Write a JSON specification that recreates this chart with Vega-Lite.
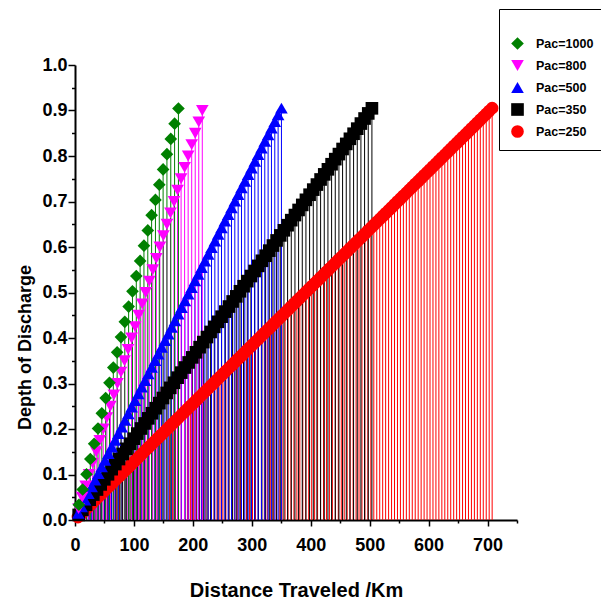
{
"$schema": "https://vega.github.io/schema/vega-lite/v6.json",
"width": 442, "height": 455,
"autosize": "none",
"padding": {"left": 75, "top": 65, "right": 84, "bottom": 83},
"background": "white",
"config": {"view": {"stroke": null}, "font": "Liberation Sans"},
"data": {"values": [
{"pac":"Pac=250","km":5.02,"dod":0.0064},{"pac":"Pac=250","km":10.04,"dod":0.0128},{"pac":"Pac=250","km":15.06,"dod":0.0193},{"pac":"Pac=250","km":20.08,"dod":0.0257},{"pac":"Pac=250","km":25.1,"dod":0.0321},{"pac":"Pac=250","km":30.12,"dod":0.0385},{"pac":"Pac=250","km":35.14,"dod":0.0449},{"pac":"Pac=250","km":40.16,"dod":0.0514},{"pac":"Pac=250","km":45.18,"dod":0.0578},{"pac":"Pac=250","km":50.2,"dod":0.0642},
{"pac":"Pac=250","km":55.22,"dod":0.0706},{"pac":"Pac=250","km":60.24,"dod":0.077},{"pac":"Pac=250","km":65.26,"dod":0.0835},{"pac":"Pac=250","km":70.28,"dod":0.0899},{"pac":"Pac=250","km":75.3,"dod":0.0963},{"pac":"Pac=250","km":80.32,"dod":0.1027},{"pac":"Pac=250","km":85.34,"dod":0.1091},{"pac":"Pac=250","km":90.36,"dod":0.1156},{"pac":"Pac=250","km":95.38,"dod":0.122},{"pac":"Pac=250","km":100.4,"dod":0.1284},
{"pac":"Pac=250","km":105.42,"dod":0.1348},{"pac":"Pac=250","km":110.44,"dod":0.1412},{"pac":"Pac=250","km":115.46,"dod":0.1477},{"pac":"Pac=250","km":120.48,"dod":0.1541},{"pac":"Pac=250","km":125.5,"dod":0.1605},{"pac":"Pac=250","km":130.52,"dod":0.1669},{"pac":"Pac=250","km":135.54,"dod":0.1733},{"pac":"Pac=250","km":140.56,"dod":0.1798},{"pac":"Pac=250","km":145.58,"dod":0.1862},{"pac":"Pac=250","km":150.6,"dod":0.1926},
{"pac":"Pac=250","km":155.62,"dod":0.199},{"pac":"Pac=250","km":160.64,"dod":0.2054},{"pac":"Pac=250","km":165.66,"dod":0.2119},{"pac":"Pac=250","km":170.68,"dod":0.2183},{"pac":"Pac=250","km":175.7,"dod":0.2247},{"pac":"Pac=250","km":180.72,"dod":0.2311},{"pac":"Pac=250","km":185.74,"dod":0.2375},{"pac":"Pac=250","km":190.76,"dod":0.244},{"pac":"Pac=250","km":195.78,"dod":0.2504},{"pac":"Pac=250","km":200.8,"dod":0.2568},
{"pac":"Pac=250","km":205.82,"dod":0.2632},{"pac":"Pac=250","km":210.84,"dod":0.2696},{"pac":"Pac=250","km":215.86,"dod":0.2761},{"pac":"Pac=250","km":220.88,"dod":0.2825},{"pac":"Pac=250","km":225.9,"dod":0.2889},{"pac":"Pac=250","km":230.92,"dod":0.2953},{"pac":"Pac=250","km":235.94,"dod":0.3017},{"pac":"Pac=250","km":240.96,"dod":0.3082},{"pac":"Pac=250","km":245.98,"dod":0.3146},{"pac":"Pac=250","km":251,"dod":0.321},
{"pac":"Pac=250","km":256.02,"dod":0.3274},{"pac":"Pac=250","km":261.04,"dod":0.3338},{"pac":"Pac=250","km":266.06,"dod":0.3403},{"pac":"Pac=250","km":271.08,"dod":0.3467},{"pac":"Pac=250","km":276.1,"dod":0.3531},{"pac":"Pac=250","km":281.12,"dod":0.3595},{"pac":"Pac=250","km":286.14,"dod":0.3659},{"pac":"Pac=250","km":291.16,"dod":0.3724},{"pac":"Pac=250","km":296.18,"dod":0.3788},{"pac":"Pac=250","km":301.2,"dod":0.3852},
{"pac":"Pac=250","km":306.22,"dod":0.3916},{"pac":"Pac=250","km":311.24,"dod":0.398},{"pac":"Pac=250","km":316.26,"dod":0.4045},{"pac":"Pac=250","km":321.28,"dod":0.4109},{"pac":"Pac=250","km":326.3,"dod":0.4173},{"pac":"Pac=250","km":331.32,"dod":0.4237},{"pac":"Pac=250","km":336.34,"dod":0.4301},{"pac":"Pac=250","km":341.36,"dod":0.4366},{"pac":"Pac=250","km":346.38,"dod":0.443},{"pac":"Pac=250","km":351.4,"dod":0.4494},
{"pac":"Pac=250","km":356.42,"dod":0.4558},{"pac":"Pac=250","km":361.44,"dod":0.4622},{"pac":"Pac=250","km":366.46,"dod":0.4687},{"pac":"Pac=250","km":371.48,"dod":0.4751},{"pac":"Pac=250","km":376.5,"dod":0.4815},{"pac":"Pac=250","km":381.52,"dod":0.4879},{"pac":"Pac=250","km":386.54,"dod":0.4943},{"pac":"Pac=250","km":391.56,"dod":0.5008},{"pac":"Pac=250","km":396.58,"dod":0.5072},{"pac":"Pac=250","km":401.6,"dod":0.5136},
{"pac":"Pac=250","km":406.62,"dod":0.52},{"pac":"Pac=250","km":411.64,"dod":0.5264},{"pac":"Pac=250","km":416.66,"dod":0.5329},{"pac":"Pac=250","km":421.68,"dod":0.5393},{"pac":"Pac=250","km":426.7,"dod":0.5457},{"pac":"Pac=250","km":431.72,"dod":0.5521},{"pac":"Pac=250","km":436.74,"dod":0.5585},{"pac":"Pac=250","km":441.76,"dod":0.565},{"pac":"Pac=250","km":446.78,"dod":0.5714},{"pac":"Pac=250","km":451.8,"dod":0.5778},
{"pac":"Pac=250","km":456.82,"dod":0.5842},{"pac":"Pac=250","km":461.84,"dod":0.5906},{"pac":"Pac=250","km":466.86,"dod":0.5971},{"pac":"Pac=250","km":471.88,"dod":0.6035},{"pac":"Pac=250","km":476.9,"dod":0.6099},{"pac":"Pac=250","km":481.92,"dod":0.6163},{"pac":"Pac=250","km":486.94,"dod":0.6227},{"pac":"Pac=250","km":491.96,"dod":0.6292},{"pac":"Pac=250","km":496.98,"dod":0.6356},{"pac":"Pac=250","km":502,"dod":0.642},
{"pac":"Pac=250","km":507.02,"dod":0.6484},{"pac":"Pac=250","km":512.04,"dod":0.6548},{"pac":"Pac=250","km":517.06,"dod":0.6613},{"pac":"Pac=250","km":522.08,"dod":0.6677},{"pac":"Pac=250","km":527.1,"dod":0.6741},{"pac":"Pac=250","km":532.12,"dod":0.6805},{"pac":"Pac=250","km":537.14,"dod":0.6869},{"pac":"Pac=250","km":542.16,"dod":0.6934},{"pac":"Pac=250","km":547.18,"dod":0.6998},{"pac":"Pac=250","km":552.2,"dod":0.7062},
{"pac":"Pac=250","km":557.22,"dod":0.7126},{"pac":"Pac=250","km":562.24,"dod":0.719},{"pac":"Pac=250","km":567.26,"dod":0.7255},{"pac":"Pac=250","km":572.28,"dod":0.7319},{"pac":"Pac=250","km":577.3,"dod":0.7383},{"pac":"Pac=250","km":582.32,"dod":0.7447},{"pac":"Pac=250","km":587.34,"dod":0.7511},{"pac":"Pac=250","km":592.36,"dod":0.7576},{"pac":"Pac=250","km":597.38,"dod":0.764},{"pac":"Pac=250","km":602.4,"dod":0.7704},
{"pac":"Pac=250","km":607.42,"dod":0.7768},{"pac":"Pac=250","km":612.44,"dod":0.7832},{"pac":"Pac=250","km":617.46,"dod":0.7897},{"pac":"Pac=250","km":622.48,"dod":0.7961},{"pac":"Pac=250","km":627.5,"dod":0.8025},{"pac":"Pac=250","km":632.52,"dod":0.8089},{"pac":"Pac=250","km":637.54,"dod":0.8153},{"pac":"Pac=250","km":642.56,"dod":0.8218},{"pac":"Pac=250","km":647.58,"dod":0.8282},{"pac":"Pac=250","km":652.6,"dod":0.8346},
{"pac":"Pac=250","km":657.62,"dod":0.841},{"pac":"Pac=250","km":662.64,"dod":0.8474},{"pac":"Pac=250","km":667.66,"dod":0.8539},{"pac":"Pac=250","km":672.68,"dod":0.8603},{"pac":"Pac=250","km":677.7,"dod":0.8667},{"pac":"Pac=250","km":682.72,"dod":0.8731},{"pac":"Pac=250","km":687.74,"dod":0.8795},{"pac":"Pac=250","km":692.76,"dod":0.886},{"pac":"Pac=250","km":697.78,"dod":0.8924},{"pac":"Pac=250","km":702.8,"dod":0.8988},
{"pac":"Pac=250","km":707.82,"dod":0.9052},
{"pac":"Pac=350","km":6.22,"dod":0.0112},{"pac":"Pac=350","km":12.44,"dod":0.0223},{"pac":"Pac=350","km":18.66,"dod":0.0335},{"pac":"Pac=350","km":24.88,"dod":0.0447},{"pac":"Pac=350","km":31.1,"dod":0.0559},{"pac":"Pac=350","km":37.32,"dod":0.067},{"pac":"Pac=350","km":43.54,"dod":0.0782},{"pac":"Pac=350","km":49.76,"dod":0.0894},{"pac":"Pac=350","km":55.98,"dod":0.1005},{"pac":"Pac=350","km":62.2,"dod":0.1117},
{"pac":"Pac=350","km":68.42,"dod":0.1229},{"pac":"Pac=350","km":74.64,"dod":0.134},{"pac":"Pac=350","km":80.86,"dod":0.1452},{"pac":"Pac=350","km":87.08,"dod":0.1564},{"pac":"Pac=350","km":93.3,"dod":0.1676},{"pac":"Pac=350","km":99.52,"dod":0.1787},{"pac":"Pac=350","km":105.74,"dod":0.1899},{"pac":"Pac=350","km":111.96,"dod":0.2011},{"pac":"Pac=350","km":118.18,"dod":0.2122},{"pac":"Pac=350","km":124.4,"dod":0.2234},
{"pac":"Pac=350","km":130.62,"dod":0.2346},{"pac":"Pac=350","km":136.84,"dod":0.2457},{"pac":"Pac=350","km":143.06,"dod":0.2569},{"pac":"Pac=350","km":149.28,"dod":0.2681},{"pac":"Pac=350","km":155.5,"dod":0.2793},{"pac":"Pac=350","km":161.72,"dod":0.2904},{"pac":"Pac=350","km":167.94,"dod":0.3016},{"pac":"Pac=350","km":174.16,"dod":0.3128},{"pac":"Pac=350","km":180.38,"dod":0.3239},{"pac":"Pac=350","km":186.6,"dod":0.3351},
{"pac":"Pac=350","km":192.82,"dod":0.3463},{"pac":"Pac=350","km":199.04,"dod":0.3574},{"pac":"Pac=350","km":205.26,"dod":0.3686},{"pac":"Pac=350","km":211.48,"dod":0.3798},{"pac":"Pac=350","km":217.7,"dod":0.391},{"pac":"Pac=350","km":223.92,"dod":0.4021},{"pac":"Pac=350","km":230.14,"dod":0.4133},{"pac":"Pac=350","km":236.36,"dod":0.4245},{"pac":"Pac=350","km":242.58,"dod":0.4356},{"pac":"Pac=350","km":248.8,"dod":0.4468},
{"pac":"Pac=350","km":255.02,"dod":0.458},{"pac":"Pac=350","km":261.24,"dod":0.4691},{"pac":"Pac=350","km":267.46,"dod":0.4803},{"pac":"Pac=350","km":273.68,"dod":0.4915},{"pac":"Pac=350","km":279.9,"dod":0.5027},{"pac":"Pac=350","km":286.12,"dod":0.5138},{"pac":"Pac=350","km":292.34,"dod":0.525},{"pac":"Pac=350","km":298.56,"dod":0.5362},{"pac":"Pac=350","km":304.78,"dod":0.5473},{"pac":"Pac=350","km":311,"dod":0.5585},
{"pac":"Pac=350","km":317.22,"dod":0.5697},{"pac":"Pac=350","km":323.44,"dod":0.5808},{"pac":"Pac=350","km":329.66,"dod":0.592},{"pac":"Pac=350","km":335.88,"dod":0.6032},{"pac":"Pac=350","km":342.1,"dod":0.6144},{"pac":"Pac=350","km":348.32,"dod":0.6255},{"pac":"Pac=350","km":354.54,"dod":0.6367},{"pac":"Pac=350","km":360.76,"dod":0.6479},{"pac":"Pac=350","km":366.98,"dod":0.659},{"pac":"Pac=350","km":373.2,"dod":0.6702},
{"pac":"Pac=350","km":379.42,"dod":0.6814},{"pac":"Pac=350","km":385.64,"dod":0.6925},{"pac":"Pac=350","km":391.86,"dod":0.7037},{"pac":"Pac=350","km":398.08,"dod":0.7149},{"pac":"Pac=350","km":404.3,"dod":0.7261},{"pac":"Pac=350","km":410.52,"dod":0.7372},{"pac":"Pac=350","km":416.74,"dod":0.7484},{"pac":"Pac=350","km":422.96,"dod":0.7596},{"pac":"Pac=350","km":429.18,"dod":0.7707},{"pac":"Pac=350","km":435.4,"dod":0.7819},
{"pac":"Pac=350","km":441.62,"dod":0.7931},{"pac":"Pac=350","km":447.84,"dod":0.8042},{"pac":"Pac=350","km":454.06,"dod":0.8154},{"pac":"Pac=350","km":460.28,"dod":0.8266},{"pac":"Pac=350","km":466.5,"dod":0.8378},{"pac":"Pac=350","km":472.72,"dod":0.8489},{"pac":"Pac=350","km":478.94,"dod":0.8601},{"pac":"Pac=350","km":485.16,"dod":0.8713},{"pac":"Pac=350","km":491.38,"dod":0.8824},{"pac":"Pac=350","km":497.6,"dod":0.8936},
{"pac":"Pac=350","km":503.82,"dod":0.9048},
{"pac":"Pac=500","km":5.65,"dod":0.0146},{"pac":"Pac=500","km":11.3,"dod":0.0292},{"pac":"Pac=500","km":16.95,"dod":0.0438},{"pac":"Pac=500","km":22.6,"dod":0.0584},{"pac":"Pac=500","km":28.25,"dod":0.073},{"pac":"Pac=500","km":33.9,"dod":0.0876},{"pac":"Pac=500","km":39.55,"dod":0.1022},{"pac":"Pac=500","km":45.2,"dod":0.1168},{"pac":"Pac=500","km":50.85,"dod":0.1314},{"pac":"Pac=500","km":56.5,"dod":0.146},
{"pac":"Pac=500","km":62.15,"dod":0.1606},{"pac":"Pac=500","km":67.8,"dod":0.1752},{"pac":"Pac=500","km":73.45,"dod":0.1898},{"pac":"Pac=500","km":79.1,"dod":0.2044},{"pac":"Pac=500","km":84.75,"dod":0.219},{"pac":"Pac=500","km":90.4,"dod":0.2336},{"pac":"Pac=500","km":96.05,"dod":0.2482},{"pac":"Pac=500","km":101.7,"dod":0.2628},{"pac":"Pac=500","km":107.35,"dod":0.2774},{"pac":"Pac=500","km":113,"dod":0.292},
{"pac":"Pac=500","km":118.65,"dod":0.3066},{"pac":"Pac=500","km":124.3,"dod":0.3212},{"pac":"Pac=500","km":129.95,"dod":0.3358},{"pac":"Pac=500","km":135.6,"dod":0.3504},{"pac":"Pac=500","km":141.25,"dod":0.365},{"pac":"Pac=500","km":146.9,"dod":0.3796},{"pac":"Pac=500","km":152.55,"dod":0.3942},{"pac":"Pac=500","km":158.2,"dod":0.4088},{"pac":"Pac=500","km":163.85,"dod":0.4234},{"pac":"Pac=500","km":169.5,"dod":0.438},
{"pac":"Pac=500","km":175.15,"dod":0.4526},{"pac":"Pac=500","km":180.8,"dod":0.4672},{"pac":"Pac=500","km":186.45,"dod":0.4818},{"pac":"Pac=500","km":192.1,"dod":0.4964},{"pac":"Pac=500","km":197.75,"dod":0.511},{"pac":"Pac=500","km":203.4,"dod":0.5256},{"pac":"Pac=500","km":209.05,"dod":0.5402},{"pac":"Pac=500","km":214.7,"dod":0.5548},{"pac":"Pac=500","km":220.35,"dod":0.5694},{"pac":"Pac=500","km":226,"dod":0.584},
{"pac":"Pac=500","km":231.65,"dod":0.5986},{"pac":"Pac=500","km":237.3,"dod":0.6132},{"pac":"Pac=500","km":242.95,"dod":0.6278},{"pac":"Pac=500","km":248.6,"dod":0.6424},{"pac":"Pac=500","km":254.25,"dod":0.657},{"pac":"Pac=500","km":259.9,"dod":0.6716},{"pac":"Pac=500","km":265.55,"dod":0.6862},{"pac":"Pac=500","km":271.2,"dod":0.7008},{"pac":"Pac=500","km":276.85,"dod":0.7154},{"pac":"Pac=500","km":282.5,"dod":0.73},
{"pac":"Pac=500","km":288.15,"dod":0.7446},{"pac":"Pac=500","km":293.8,"dod":0.7592},{"pac":"Pac=500","km":299.45,"dod":0.7738},{"pac":"Pac=500","km":305.1,"dod":0.7884},{"pac":"Pac=500","km":310.75,"dod":0.803},{"pac":"Pac=500","km":316.4,"dod":0.8176},{"pac":"Pac=500","km":322.05,"dod":0.8322},{"pac":"Pac=500","km":327.7,"dod":0.8468},{"pac":"Pac=500","km":333.35,"dod":0.8614},{"pac":"Pac=500","km":339,"dod":0.876},
{"pac":"Pac=500","km":344.65,"dod":0.8906},{"pac":"Pac=500","km":350.3,"dod":0.9052},
{"pac":"Pac=800","km":6,"dod":0.025},{"pac":"Pac=800","km":12,"dod":0.05},{"pac":"Pac=800","km":18,"dod":0.075},{"pac":"Pac=800","km":24,"dod":0.1},{"pac":"Pac=800","km":30,"dod":0.125},{"pac":"Pac=800","km":36,"dod":0.15},{"pac":"Pac=800","km":42,"dod":0.175},{"pac":"Pac=800","km":48,"dod":0.2},{"pac":"Pac=800","km":54,"dod":0.225},{"pac":"Pac=800","km":60,"dod":0.25},
{"pac":"Pac=800","km":66,"dod":0.275},{"pac":"Pac=800","km":72,"dod":0.3},{"pac":"Pac=800","km":78,"dod":0.325},{"pac":"Pac=800","km":84,"dod":0.35},{"pac":"Pac=800","km":90,"dod":0.375},{"pac":"Pac=800","km":96,"dod":0.4},{"pac":"Pac=800","km":102,"dod":0.425},{"pac":"Pac=800","km":108,"dod":0.45},{"pac":"Pac=800","km":114,"dod":0.475},{"pac":"Pac=800","km":120,"dod":0.5},
{"pac":"Pac=800","km":126,"dod":0.525},{"pac":"Pac=800","km":132,"dod":0.55},{"pac":"Pac=800","km":138,"dod":0.575},{"pac":"Pac=800","km":144,"dod":0.6},{"pac":"Pac=800","km":150,"dod":0.625},{"pac":"Pac=800","km":156,"dod":0.65},{"pac":"Pac=800","km":162,"dod":0.675},{"pac":"Pac=800","km":168,"dod":0.7},{"pac":"Pac=800","km":174,"dod":0.725},{"pac":"Pac=800","km":180,"dod":0.75},
{"pac":"Pac=800","km":186,"dod":0.775},{"pac":"Pac=800","km":192,"dod":0.8},{"pac":"Pac=800","km":198,"dod":0.825},{"pac":"Pac=800","km":204,"dod":0.85},{"pac":"Pac=800","km":210,"dod":0.875},{"pac":"Pac=800","km":216,"dod":0.9},
{"pac":"Pac=1000","km":6.5,"dod":0.0335},{"pac":"Pac=1000","km":13,"dod":0.067},{"pac":"Pac=1000","km":19.5,"dod":0.1005},{"pac":"Pac=1000","km":26,"dod":0.134},{"pac":"Pac=1000","km":32.5,"dod":0.1675},{"pac":"Pac=1000","km":39,"dod":0.201},{"pac":"Pac=1000","km":45.5,"dod":0.2345},{"pac":"Pac=1000","km":52,"dod":0.268},{"pac":"Pac=1000","km":58.5,"dod":0.3015},{"pac":"Pac=1000","km":65,"dod":0.335},
{"pac":"Pac=1000","km":71.5,"dod":0.3685},{"pac":"Pac=1000","km":78,"dod":0.402},{"pac":"Pac=1000","km":84.5,"dod":0.4355},{"pac":"Pac=1000","km":91,"dod":0.469},{"pac":"Pac=1000","km":97.5,"dod":0.5025},{"pac":"Pac=1000","km":104,"dod":0.536},{"pac":"Pac=1000","km":110.5,"dod":0.5695},{"pac":"Pac=1000","km":117,"dod":0.603},{"pac":"Pac=1000","km":123.5,"dod":0.6365},{"pac":"Pac=1000","km":130,"dod":0.67},
{"pac":"Pac=1000","km":136.5,"dod":0.7035},{"pac":"Pac=1000","km":143,"dod":0.737},{"pac":"Pac=1000","km":149.5,"dod":0.7705},{"pac":"Pac=1000","km":156,"dod":0.804},{"pac":"Pac=1000","km":162.5,"dod":0.8375},{"pac":"Pac=1000","km":169,"dod":0.871},{"pac":"Pac=1000","km":175.5,"dod":0.9045}
]},
"encoding": {
"x": {"field": "km", "type": "quantitative",
 "scale": {"domain": [0, 750], "nice": false},
 "axis": {"values": [0,50,100,150,200,250,300,350,400,450,500,550,600,650,700,750],
  "labelExpr": "datum.value % 100 === 0 ? datum.label : ''",
  "format": "d",
  "tickSize": {"condition": {"test": "datum.value % 100 === 0", "value": 6}, "value": 3},
  "grid": false, "domainColor": "black", "domainWidth": 2, "tickColor": "black", "tickWidth": 1.5,
  "labelFont": "Liberation Sans", "labelFontWeight": "bold", "labelFontSize": 18, "labelColor": "black",
  "labelPadding": 10, "labelFlush": false, "labelOverlap": false,
  "title": "Distance Traveled /Km", "titleFont": "Liberation Sans", "titleFontSize": 20, "titleFontWeight": "bold",
  "titleColor": "black", "titleBaseline": "alphabetic", "titleY": 76}},
"y": {"field": "dod", "type": "quantitative",
 "scale": {"domain": [0, 1], "nice": false},
 "axis": {"values": [0,0.05,0.1,0.15,0.2,0.25,0.3,0.35,0.4,0.45,0.5,0.55,0.6,0.65,0.7,0.75,0.8,0.85,0.9,0.95,1.0],
  "labelExpr": "round(datum.value*100) % 10 === 0 ? datum.label : ''",
  "format": ".1f",
  "tickSize": {"condition": {"test": "round(datum.value*100) % 10 === 0", "value": 7}, "value": 3.5},
  "grid": false, "domainColor": "black", "domainWidth": 2, "tickColor": "black", "tickWidth": 1.5,
  "labelFont": "Liberation Sans", "labelFontWeight": "bold", "labelFontSize": 18, "labelColor": "black",
  "labelPadding": 1, "labelFlush": false, "labelOverlap": false,
  "title": "Depth of Discharge", "titleFont": "Liberation Sans", "titleFontSize": 18, "titleFontWeight": "bold",
  "titleColor": "black", "titleBaseline": "alphabetic", "titleX": -45, "titleY": 282, "titleAngle": 270}}
},
"layer": [
{
"mark": {"type": "rule", "strokeWidth": 1},
"encoding": {
"y2": {"datum": 0},
"stroke": {"field": "pac", "type": "nominal", "legend": null,
 "scale": {"domain": ["Pac=250","Pac=350","Pac=500","Pac=800","Pac=1000"], "range": ["#FF0000","#000000","#0000FF","#FF00FF","#008000"]}}
}
},
{
"mark": {"type": "point", "filled": true, "opacity": 1, "strokeWidth": 0},
"encoding": {
"color": {"field": "pac", "type": "nominal",
 "scale": {"domain": ["Pac=1000","Pac=800","Pac=500","Pac=350","Pac=250"], "range": ["#008000","#FF00FF","#0000FF","#000000","#FF0000"]},
 "legend": {"orient": "none", "legendX": 424, "legendY": -56, "title": " ", "titleFontSize": 12, "titlePadding": 4,
  "padding": 12, "strokeColor": "black", "fillColor": "white", "rowPadding": 9, "labelOffset": 12,
  "labelFont": "Liberation Sans", "labelFontWeight": "bold", "labelFontSize": 12.5, "labelColor": "black", "symbolOpacity": 1, "symbolStrokeWidth": 0}},
"shape": {"field": "pac", "type": "nominal",
 "scale": {"domain": ["Pac=1000","Pac=800","Pac=500","Pac=350","Pac=250"], "range": ["diamond","triangle-down","triangle-up","square","circle"]},
 "legend": {"orient": "none", "legendX": 424, "legendY": -56, "title": " ", "titleFontSize": 12, "titlePadding": 4,
  "padding": 12, "strokeColor": "black", "fillColor": "white", "rowPadding": 9, "labelOffset": 12,
  "labelFont": "Liberation Sans", "labelFontWeight": "bold", "labelFontSize": 12.5, "labelColor": "black", "symbolOpacity": 1, "symbolStrokeWidth": 0}},
"size": {"field": "pac", "type": "nominal",
 "scale": {"domain": ["Pac=1000","Pac=800","Pac=500","Pac=350","Pac=250"], "range": [160, 160, 150, 90, 140]},
 "legend": {"orient": "none", "legendX": 424, "legendY": -56, "title": " ", "titleFontSize": 12, "titlePadding": 4,
  "padding": 12, "strokeColor": "black", "fillColor": "white", "rowPadding": 9, "labelOffset": 12,
  "labelFont": "Liberation Sans", "labelFontWeight": "bold", "labelFontSize": 12.5, "labelColor": "black", "symbolOpacity": 1, "symbolStrokeWidth": 0}}
}
}
]
}
